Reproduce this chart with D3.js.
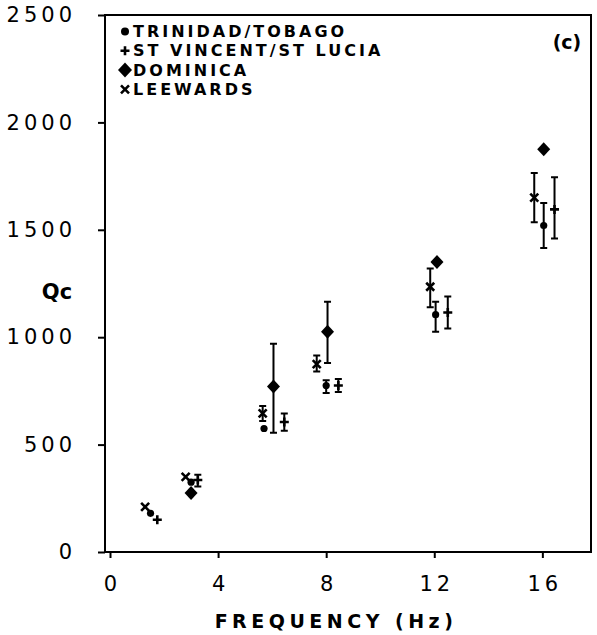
<!DOCTYPE html>
<html>
<head>
<meta charset="utf-8">
<script src="https://cdn.jsdelivr.net/npm/d3@7"></script>
<style>
  body { margin: 0; background: #fff; }
  text { fill: #000; }
</style>
</head>
<body>
<svg id="chart"></svg>
<script>
// Qc vs frequency, four island groups
const xTicks = [0, 4, 8, 12, 16];
const yTicks = [0, 500, 1000, 1500, 2000, 2500];

const trinidadFreq = [1.5, 3.0, 5.7, 8.0, 12.05, 16.05];
const trinidadQ    = [180, 325, 575, 775, 1105, 1520];
const trinidadLo   = [null, null, null, 740, 1025, 1415];
const trinidadHi   = [null, null, null, 800, 1165, 1625];

const vincentFreq = [1.75, 3.25, 6.45, 8.45, 12.5, 16.45];
const vincentQ    = [150, 335, 605, 775, 1115, 1595];
const vincentLo   = [null, 305, 565, 745, 1040, 1460];
const vincentHi   = [null, 360, 645, 805, 1190, 1745];

const dominicaFreq = [3.0, 6.05, 8.05, 12.1, 16.05];
const dominicaQ    = [275, 770, 1025, 1350, 1875];
const dominicaLo   = [null, 555, 880, null, null];
const dominicaHi   = [null, 970, 1165, null, null];

const leewardsFreq = [1.3, 2.8, 5.65, 7.65, 11.85, 15.7];
const leewardsQ    = [210, 350, 645, 875, 1235, 1650];
const leewardsLo   = [null, null, 610, 840, 1140, 1535];
const leewardsHi   = [null, null, 680, 915, 1320, 1765];

const legendLabels = ["TRINIDAD/TOBAGO", "ST VINCENT/ST LUCIA", "DOMINICA", "LEEWARDS"];
const shapes = ["dot", "plus", "diamond", "cross"];

function rows(f, q, lo, hi) {
  return f.map((d, i) => ({ f: d, q: q[i], lo: lo[i], hi: hi[i] }));
}
const series = [
  rows(trinidadFreq, trinidadQ, trinidadLo, trinidadHi),
  rows(vincentFreq, vincentQ, vincentLo, vincentHi),
  rows(dominicaFreq, dominicaQ, dominicaLo, dominicaHi),
  rows(leewardsFreq, leewardsQ, leewardsLo, leewardsHi)
];

const width = 597, height = 635;
const plot = { left: 105, right: 591, top: 15, bottom: 552 };

const svg = d3.select("#chart").attr("width", width).attr("height", height);

const x = d3.scaleLinear().domain([-0.185, 17.8]).range([plot.left, plot.right]);
const y = d3.scaleLinear().domain([0, 2500]).range([plot.bottom, plot.top]);

const numFont = "'DejaVu Sans', sans-serif";
const boldFont = "'DejaVu Sans', Verdana, sans-serif";

// frame
svg.append("rect")
  .attr("x", plot.left).attr("y", plot.top)
  .attr("width", plot.right - plot.left).attr("height", plot.bottom - plot.top)
  .attr("fill", "none").attr("stroke", "#000").attr("stroke-width", 2);

// axes
const xAxis = svg.append("g")
  .attr("transform", `translate(0,${plot.bottom})`)
  .call(d3.axisBottom(x).tickValues(xTicks).tickSize(6).tickPadding(15).tickFormat(d3.format("d")));
const yAxis = svg.append("g")
  .attr("transform", `translate(${plot.left},0)`)
  .call(d3.axisLeft(y).tickValues(yTicks).tickSize(7).tickPadding(22).tickFormat(d3.format("d")));

[xAxis, yAxis].forEach(g => {
  g.select(".domain").remove();
  g.selectAll(".tick line").attr("stroke", "#000").attr("stroke-width", 2);
  g.selectAll("text")
    .attr("font-family", numFont).attr("font-size", 21)
    .attr("letter-spacing", 4).attr("fill", "#000");
});
xAxis.selectAll("text").attr("dy", "0.85em").attr("dx", 2);

svg.append("text")
  .attr("x", 336).attr("y", 628)
  .attr("text-anchor", "middle")
  .attr("font-family", boldFont).attr("font-weight", "bold")
  .attr("font-size", 19).attr("letter-spacing", 4.5)
  .text("FREQUENCY (Hz)");

svg.append("text")
  .attr("x", 57).attr("y", 299)
  .attr("text-anchor", "middle")
  .attr("font-family", boldFont).attr("font-weight", "bold")
  .attr("font-size", 21)
  .text("Qc");

svg.append("text")
  .attr("x", 567).attr("y", 49)
  .attr("text-anchor", "middle")
  .attr("font-family", boldFont).attr("font-weight", "bold")
  .attr("font-size", 19)
  .text("(c)");

function drawMarker(g, shape, big) {
  if (shape === "dot") {
    g.append("circle").attr("r", big ? 4 : 3.6).attr("fill", "#000");
  } else if (shape === "diamond") {
    const w = big ? 7 : 6.5, h = big ? 7.5 : 7;
    g.append("path").attr("d", `M0,${-h}L${w},0L0,${h}L${-w},0Z`).attr("fill", "#000");
  } else if (shape === "plus") {
    const s = 4.5;
    g.append("path").attr("d", `M${-s},0H${s}M0,${-s}V${s}`)
      .attr("stroke", "#000").attr("stroke-width", 2.6);
  } else {
    const s = 4;
    g.append("path").attr("d", `M${-s},${-s}L${s},${s}M${-s},${s}L${s},${-s}`)
      .attr("stroke", "#000").attr("stroke-width", 2.6);
  }
}

// error bars and markers
series.forEach((data, si) => {
  const g = svg.append("g");
  const withErr = data.filter(d => d.lo != null);
  g.selectAll(".err")
    .data(withErr)
    .enter()
    .append("path")
    .attr("d", d => {
      const cx = x(d.f), c = 3.5;
      return `M${cx},${y(d.hi)}V${y(d.lo)}M${cx - c},${y(d.hi)}H${cx + c}M${cx - c},${y(d.lo)}H${cx + c}`;
    })
    .attr("stroke", "#000").attr("stroke-width", 2).attr("fill", "none");

  g.selectAll(".pt")
    .data(data)
    .enter()
    .append("g")
    .attr("transform", d => `translate(${x(d.f)},${y(d.q)})`)
    .each(function() { drawMarker(d3.select(this), shapes[si], false); });
});

// legend
const legend = svg.append("g");
legendLabels.forEach((label, i) => {
  const row = legend.append("g").attr("transform", `translate(0,${37 + i * 19.3})`);
  const m = row.append("g").attr("transform", "translate(125,-5.5)");
  drawMarker(m, shapes[i], true);
  row.append("text")
    .attr("x", 133).attr("y", 0)
    .attr("font-family", boldFont).attr("font-weight", "bold")
    .attr("font-size", 16).attr("letter-spacing", 3)
    .text(label);
});
</script>
</body>
</html>
